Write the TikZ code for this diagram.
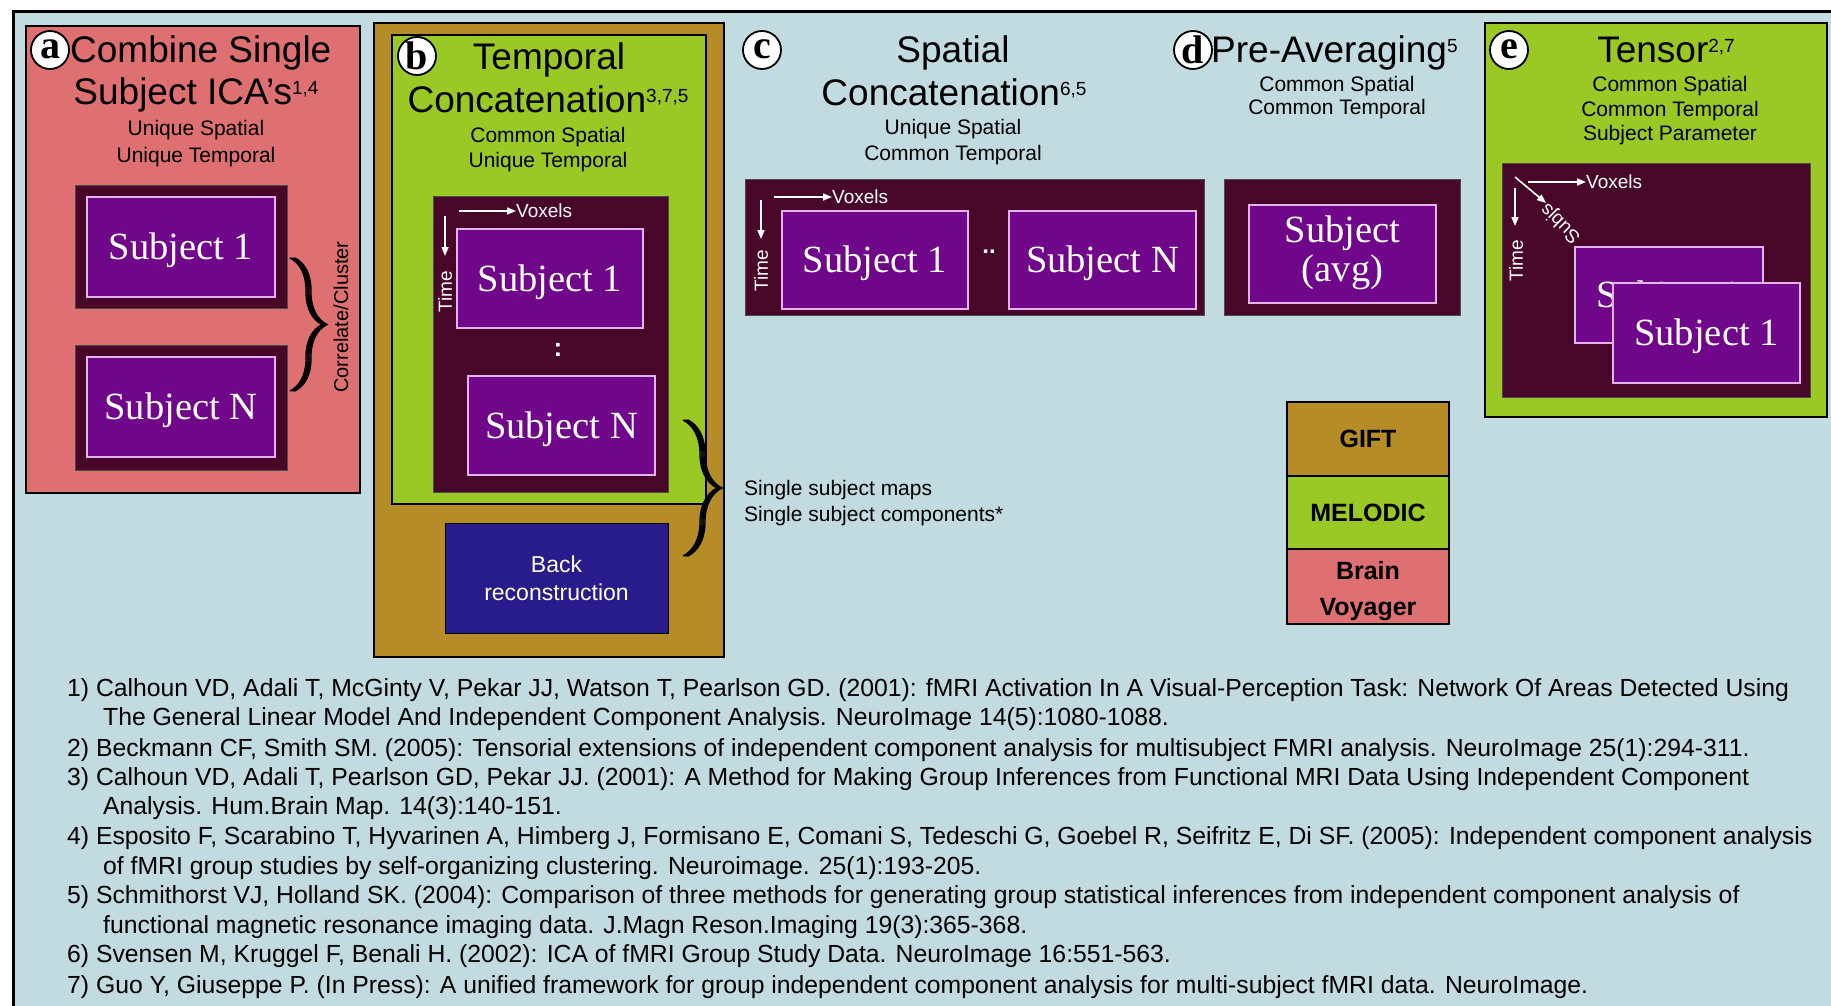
\documentclass[tikz,border=0pt]{standalone}
\usepackage{fontspec}
\setmainfont{Liberation Sans}
\newfontfamily\serifsubj{Liberation Serif}
\usetikzlibrary{arrows.meta,decorations.pathreplacing,calc}

\definecolor{bgblue}{RGB}{193,219,224}
\definecolor{panelred}{RGB}{222,112,114}
\definecolor{goldc}{RGB}{182,140,38}
\definecolor{lgreen}{RGB}{154,200,36}
\definecolor{maroon}{RGB}{72,6,40}
\definecolor{purp}{RGB}{112,6,138}
\definecolor{lilac}{RGB}{228,178,236}
\definecolor{navyc}{RGB}{40,28,140}

\newcommand{\fSubj}{\serifsubj\fontsize{38.5}{40}\selectfont}
\newcommand{\fCirc}{\serifsubj\bfseries\fontsize{40}{40}\selectfont}
\newcommand{\fTitle}{\fontsize{37}{40}\selectfont}
\newcommand{\fSubt}{\fontsize{21}{25}\selectfont}
\newcommand{\fAx}{\fontsize{19}{22}\selectfont}
\newcommand{\fLeg}{\bfseries\fontsize{25}{36}\selectfont}
\newcommand{\fRef}{\fontsize{24.75}{28}\selectfont}
\newcommand{\supn}[1]{\raisebox{10pt}{\fontsize{19}{19}\selectfont #1}}

\tikzset{
  panelbox/.style={draw=black, line width=2pt, inner sep=0pt},
  darkbox/.style={fill=maroon, draw=black!70, line width=1pt, inner sep=0pt},
  subjbox/.style={fill=purp, draw=lilac, line width=2pt, text=white, font=\fSubj,
                  text height=25pt, text depth=0pt, inner sep=0pt, align=center},
  circlab/.style={circle, draw=black, fill=white, line width=1.8pt, minimum size=38pt,
                  inner sep=0pt, font=\fCirc, text depth=0pt},
  titletxt/.style={font=\fTitle, anchor=base, inner sep=0pt},
  subtxt/.style={font=\fSubt, anchor=base, inner sep=0pt},
  axlab/.style={text=white, font=\fAx, inner sep=0pt},
  axarrow/.style={draw=white, line width=1.6pt, -{Triangle[length=9pt,width=7pt]}},
  legbox/.style={draw=black, line width=2pt, minimum width=162pt, font=\fLeg,
                 text=black, inner sep=0pt, align=center},
  refline/.style={anchor=base west, font=\fRef, inner sep=0pt},
  bracepen/.style={line width=1.3pt, decorate, decoration={brace, amplitude=32pt}},
}

\begin{document}
\begin{tikzpicture}[x=1pt,y=-1pt]
\useasboundingbox (0,0) rectangle (1831,1006);
\fill[white] (0,0) rectangle (1831,1006);
\fill[bgblue] (13,12) rectangle (1831,1006);
\draw[line width=3pt] (13,1006) -- (13,12) -- (1831,12);

% ---------------- panel a
\node[panelbox, fill=panelred, minimum width=334pt, minimum height=467pt] (pa) at (193,259.5) {};
\node[circlab, text height=18pt] (ca) at (50,50) {a};
\node[titletxt, anchor=base west] (ta1) at (70,63) {Combine Single};
\node[titletxt] (ta2) at (196,105) {Subject ICA’s\supn{1,4}};
\node[subtxt] (sta1) at (196,135.5) {Unique Spatial};
\node[subtxt] (sta2) at (196,162.5) {Unique Temporal};
\node[darkbox, minimum width=212pt, minimum height=123pt] (da1) at (181,246.5) {};
\node[subjbox, minimum width=188pt, minimum height=100pt] (sa1) at (181,247) {Subject 1};
\node[darkbox, minimum width=212pt, minimum height=125pt] (daN) at (181,407.5) {};
\node[subjbox, minimum width=188pt, minimum height=100pt] (saN) at (181,407) {Subject N};
\coordinate (brA1) at (290,258);
\coordinate (brA2) at (290,391);
\foreach \s in {0,1,...,5} {\draw[bracepen] ($(brA1)+(\s,0)$) -- ($(brA2)+(\s,0)$);}
\node[font=\fontsize{20}{22}\selectfont, rotate=90, inner sep=0pt] (corr) at (341,317) {Correlate/Cluster};

% ---------------- panel b
\node[panelbox, fill=goldc, minimum width=350pt, minimum height=634pt] (pb) at (549,340) {};
\node[panelbox, fill=lgreen, minimum width=314pt, minimum height=469pt] (pbg) at (549,269.5) {};
\node[circlab, text height=27pt] (cb) at (417,56) {b};
\node[titletxt] (tb1) at (549,70) {Temporal};
\node[titletxt] (tb2) at (548,113) {Concatenation\supn{3,7,5}};
\node[subtxt] (stb1) at (548,142.5) {Common Spatial};
\node[subtxt] (stb2) at (548,167.5) {Unique Temporal};
\node[darkbox, minimum width=235pt, minimum height=296pt] (db) at (550.5,344) {};
\node[subjbox, minimum width=186pt, minimum height=99pt] (sb1) at (550,278.5) {Subject 1};
\node[subjbox, minimum width=187pt, minimum height=99pt] (sbN) at (561.5,425.5) {Subject N};
\node[text=white, font=\bfseries\fontsize{26}{26}\selectfont, inner sep=0pt] (colb) at (558,350) {:};
\node[axlab, anchor=west] (vxb) at (516,211) {Voxels};
\coordinate (vxb0) at (459,211);
\draw[axarrow] (vxb0) -- (vxb.west);
\node[axlab, rotate=90] (tmb) at (445,292) {Time};
\coordinate (tmb0) at (445,216);
\coordinate (tmb1) at (445,256);
\draw[axarrow] (tmb0) -- (tmb1);
\node[fill=navyc, draw=black, line width=1pt, minimum width=223pt, minimum height=110pt,
      text=white, font=\fontsize{23}{28}\selectfont, align=center, inner sep=0pt] (brec) at (556.5,578) {Back\\reconstruction};
\coordinate (brB1) at (683,420);
\coordinate (brB2) at (683,556);
\foreach \s in {0,1,...,5} {\draw[bracepen, decoration={amplitude=34pt}] ($(brB1)+(\s,0)$) -- ($(brB2)+(\s,0)$);}
\node[font=\fSubt, anchor=base west, inner sep=0pt] (ssm) at (744,495.5) {Single subject maps};
\node[font=\fSubt, anchor=base west, inner sep=0pt] (ssc) at (744,521.5) {Single subject components*};

% ---------------- panel c
\node[circlab, text height=18pt] (cc) at (762,50) {c};
\node[titletxt] (tc1) at (953,63) {Spatial};
\node[titletxt] (tc2) at (954,106) {Concatenation\supn{6,5}};
\node[subtxt] (stc1) at (953,134.5) {Unique Spatial};
\node[subtxt] (stc2) at (953,160.5) {Common Temporal};
\node[darkbox, minimum width=459pt, minimum height=136pt] (dc) at (974.5,247) {};
\node[subjbox, minimum width=186pt, minimum height=98pt] (sc1) at (875,260) {Subject 1};
\node[subjbox, minimum width=187pt, minimum height=98pt] (scN) at (1102.5,260) {Subject N};
\node[text=white, font=\bfseries\fontsize{24}{24}\selectfont, inner sep=0pt] (dotc) at (989,252) {..};
\node[axlab, anchor=west] (vxc) at (832,197) {Voxels};
\coordinate (vxc0) at (774,197);
\draw[axarrow] (vxc0) -- (vxc.west);
\node[axlab, rotate=90] (tmc) at (761,271) {Time};
\coordinate (tmc0) at (761,200);
\coordinate (tmc1) at (761,239);
\draw[axarrow] (tmc0) -- (tmc1);

% ---------------- panel d
\node[circlab, text height=27pt] (cd) at (1193,50) {d};
\node[titletxt, anchor=base west] (td1) at (1211,63) {Pre-Averaging\supn{5}};
\node[subtxt] (std1) at (1337,91.5) {Common Spatial};
\node[subtxt] (std2) at (1337,114.5) {Common Temporal};
\node[darkbox, minimum width=236pt, minimum height=136pt] (dd) at (1342,247) {};
\node[subjbox, minimum width=187pt, minimum height=98pt, text height=55pt, font=\serifsubj\fontsize{38.5}{39}\selectfont] (sd) at (1342.5,254) {Subject\\(avg)};

% ---------------- panel e
\node[panelbox, fill=lgreen, minimum width=342pt, minimum height=394pt] (pe) at (1656,220) {};
\node[circlab, text height=18pt] (ce) at (1509,50) {e};
\node[titletxt] (te1) at (1666,63) {Tensor\supn{2,7}};
\node[subtxt] (ste1) at (1670,91.5) {Common Spatial};
\node[subtxt] (ste2) at (1670,116.5) {Common Temporal};
\node[subtxt] (ste3) at (1670,140.5) {Subject Parameter};
\node[darkbox, minimum width=308pt, minimum height=234pt] (de) at (1656,280) {};
\node[subjbox, minimum width=188pt, minimum height=96pt] (se2) at (1669,295) {Subject 1};
\node[subjbox, minimum width=187pt, minimum height=100pt] (se1) at (1706.5,333) {Subject 1};
\node[axlab, anchor=west] (vxe) at (1586,182) {Voxels};
\coordinate (vxe0) at (1528,182);
\draw[axarrow] (vxe0) -- (vxe.west);
\node[axlab, rotate=90] (tme) at (1516,261) {Time};
\coordinate (tme0) at (1515,188);
\coordinate (tme1) at (1515,226);
\draw[axarrow] (tme0) -- (tme1);
\coordinate (sje0) at (1515,177);
\coordinate (sje1) at (1546,203);
\draw[axarrow] (sje0) -- (sje1);
\node[axlab, rotate=135] (sje) at (1561,223) {Subjs};

% ---------------- legend
\node[legbox, fill=goldc, minimum height=74pt] (lg1) at (1368,439) {GIFT};
\node[legbox, fill=lgreen, minimum height=73pt] (lg2) at (1368,512.5) {MELODIC};
\node[legbox, fill=panelred, minimum height=75pt, text height=63pt, text depth=5pt] (lg3) at (1368,586.5) {Brain\\Voyager};

% ---------------- references
\node[refline] (r1a) at (67,696) {1) Calhoun VD, Adali T, McGinty V, Pekar JJ, Watson T, Pearlson GD. (2001): fMRI Activation In A Visual-Perception Task: Network Of Areas Detected Using};
\node[refline] (r1b) at (103,725.5) {The General Linear Model And Independent Component Analysis. NeuroImage 14(5):1080-1088.};
\node[refline] (r2) at (67,756) {2) Beckmann CF, Smith SM. (2005): Tensorial extensions of independent component analysis for multisubject FMRI analysis. NeuroImage 25(1):294-311.};
\node[refline] (r3a) at (67,785) {3) Calhoun VD, Adali T, Pearlson GD, Pekar JJ. (2001): A Method for Making Group Inferences from Functional MRI Data Using Independent Component};
\node[refline] (r3b) at (103,814) {Analysis. Hum.Brain Map. 14(3):140-151.};
\node[refline] (r4a) at (67,844.5) {4) Esposito F, Scarabino T, Hyvarinen A, Himberg J, Formisano E, Comani S, Tedeschi G, Goebel R, Seifritz E, Di SF. (2005): Independent component analysis};
\node[refline] (r4b) at (103,874) {of fMRI group studies by self-organizing clustering. Neuroimage. 25(1):193-205.};
\node[refline] (r5a) at (67,903) {5) Schmithorst VJ, Holland SK. (2004): Comparison of three methods for generating group statistical inferences from independent component analysis of};
\node[refline] (r5b) at (103,933) {functional magnetic resonance imaging data. J.Magn Reson.Imaging 19(3):365-368.};
\node[refline] (r6) at (67,962.5) {6) Svensen M, Kruggel F, Benali H. (2002): ICA of fMRI Group Study Data. NeuroImage 16:551-563.};
\node[refline] (r7) at (67,993) {7) Guo Y, Giuseppe P. (In Press): A unified framework for group independent component analysis for multi-subject fMRI data. NeuroImage.};
\end{tikzpicture}
\end{document}
